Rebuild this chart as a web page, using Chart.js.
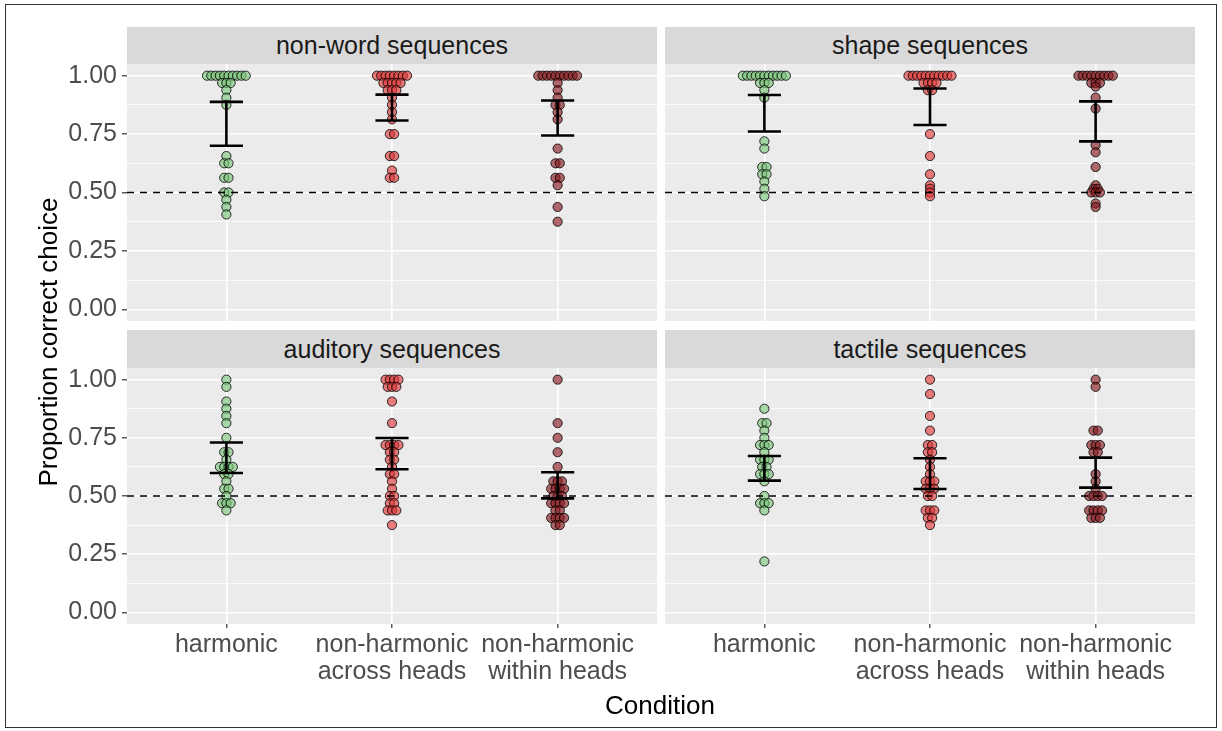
<!DOCTYPE html>
<html>
<head>
<meta charset="utf-8">
<script src="https://cdn.jsdelivr.net/npm/chart.js@4.4.0/dist/chart.umd.min.js"></script>
<style>
  html, body { margin: 0; padding: 0; background: #fff; }
  #fig { position: relative; width: 1222px; height: 731px; overflow: hidden;
         font-family: "Liberation Sans", Arial, sans-serif; }
  #frame { position: absolute; left: 5px; top: 4px; width: 1212px; height: 724px;
           border: 1px solid #333; box-sizing: border-box; }
  canvas { position: absolute; }
  .strip { position: absolute; background: #d9d9d9; color: #1a1a1a; font-size: 25px;
           text-align: center; z-index: 2; }
  .title { position: absolute; color: #000; font-size: 26px; text-align: center;
           height: 30px; line-height: 30px; z-index: 2; }
</style>
</head>
<body>
<div id="fig">
  <div id="frame"></div>
  <div class="strip" style="left:127px;top:27px;width:530px;height:37px;line-height:37px">non-word sequences</div>
  <div class="strip" style="left:665px;top:27px;width:530px;height:37px;line-height:37px">shape sequences</div>
  <div class="strip" style="left:127px;top:330px;width:530px;height:38px;line-height:38px">auditory sequences</div>
  <div class="strip" style="left:665px;top:330px;width:530px;height:38px;line-height:38px">tactile sequences</div>
  <canvas id="tl" width="626" height="305" style="left:39px;top:40px"></canvas>
  <canvas id="tr" width="546" height="305" style="left:657px;top:40px"></canvas>
  <canvas id="bl" width="626" height="374" style="left:39px;top:344px"></canvas>
  <canvas id="br" width="546" height="374" style="left:657px;top:344px"></canvas>
  <div class="title" style="left:-152px;top:327px;width:400px;transform:rotate(-90deg)">Proportion correct choice</div>
  <div class="title" style="left:460px;top:690px;width:400px">Condition</div>
</div>

<script>
// DATA
const conditions = ['harmonic', 'non-harmonic across heads', 'non-harmonic within heads'];
const xTickLabels = [['harmonic'], ['non-harmonic', 'across heads'], ['non-harmonic', 'within heads']];
const yTickValues = [0, 0.25, 0.5, 0.75, 1];
const yTickLabels = ['0.00', '0.25', '0.50', '0.75', '1.00'];
const yMinorValues = [0.125, 0.375, 0.625, 0.875];
const chanceLevel = 0.5;

// non-word sequences
const nonwordHarmonic = [1, 1, 1, 1, 1, 1, 1, 1, 1, 1, 0.969, 0.969, 0.969, 0.938, 0.906, 0.875,
  0.656, 0.625, 0.625, 0.563, 0.563, 0.5, 0.5, 0.469, 0.438, 0.406];
const nonwordAcross = [1, 1, 1, 1, 1, 1, 1, 1, 0.969, 0.969, 0.969, 0.969, 0.969, 0.938, 0.938, 0.938,
  0.906, 0.875, 0.844, 0.813, 0.75, 0.75, 0.656, 0.656, 0.594, 0.563, 0.563];
const nonwordWithin = [1, 1, 1, 1, 1, 1, 1, 1, 1, 1, 0.969, 0.938, 0.906, 0.875, 0.875, 0.844, 0.813,
  0.688, 0.625, 0.625, 0.563, 0.563, 0.531, 0.438, 0.375];
const nonwordCiLow = [0.70, 0.808, 0.744];
const nonwordCiHigh = [0.888, 0.919, 0.894];

// shape sequences
const shapeHarmonic = [1, 1, 1, 1, 1, 1, 1, 1, 1, 1, 1, 0.969, 0.969, 0.969, 0.938, 0.906,
  0.719, 0.688, 0.609, 0.609, 0.578, 0.578, 0.547, 0.516, 0.484];
const shapeAcross = [1, 1, 1, 1, 1, 1, 1, 1, 1, 1, 1, 0.969, 0.969, 0.969, 0.969, 0.938, 0.938,
  0.75, 0.656, 0.578, 0.531, 0.516, 0.5, 0.484];
const shapeWithin = [1, 1, 1, 1, 1, 1, 1, 1, 1, 0.969, 0.969, 0.969, 0.953, 0.906, 0.859, 0.703,
  0.672, 0.609, 0.531, 0.516, 0.516, 0.5, 0.5, 0.5, 0.453, 0.438];
const shapeCiLow = [0.761, 0.789, 0.719];
const shapeCiHigh = [0.917, 0.945, 0.89];

// auditory sequences
const auditoryHarmonic = [1, 0.969, 0.906, 0.875, 0.844, 0.813, 0.75, 0.688, 0.688, 0.656,
  0.625, 0.625, 0.625, 0.625, 0.594, 0.594, 0.563, 0.531, 0.531, 0.5, 0.469, 0.469, 0.469, 0.438];
const auditoryAcross = [1, 1, 1, 1, 0.969, 0.969, 0.969, 0.906, 0.813, 0.719, 0.719, 0.719, 0.719,
  0.688, 0.688, 0.656, 0.656, 0.625, 0.594, 0.594, 0.563, 0.531, 0.5, 0.5, 0.469, 0.469,
  0.438, 0.438, 0.438, 0.375];
const auditoryWithin = [1, 0.813, 0.75, 0.688, 0.625, 0.563, 0.563, 0.563, 0.531, 0.531, 0.531, 0.531,
  0.5, 0.5, 0.5, 0.469, 0.469, 0.469, 0.469, 0.438, 0.438, 0.406, 0.406, 0.406, 0.406, 0.375, 0.375];
const auditoryCiLow = [0.599, 0.615, 0.49];
const auditoryCiHigh = [0.73, 0.749, 0.602];

// tactile sequences
const tactileHarmonic = [0.875, 0.813, 0.813, 0.781, 0.75, 0.719, 0.719, 0.719, 0.688, 0.656, 0.656,
  0.656, 0.625, 0.625, 0.594, 0.594, 0.594, 0.563, 0.5, 0.469, 0.469, 0.469, 0.438, 0.219];
const tactileAcross = [1, 0.938, 0.844, 0.781, 0.719, 0.719, 0.688, 0.688, 0.656, 0.625, 0.594,
  0.563, 0.563, 0.563, 0.531, 0.531, 0.531, 0.5, 0.5, 0.438, 0.438, 0.438, 0.406, 0.406, 0.375];
const tactileWithin = [1, 0.969, 0.781, 0.781, 0.719, 0.719, 0.719, 0.688, 0.688, 0.594, 0.563,
  0.531, 0.5, 0.5, 0.5, 0.5, 0.438, 0.438, 0.438, 0.438, 0.406, 0.406, 0.406];
const tactileCiLow = [0.566, 0.53, 0.536];
const tactileCiHigh = [0.672, 0.662, 0.665];

// STYLE
const fills = ['rgba(120,195,120,0.62)', 'rgba(220,55,55,0.64)', 'rgba(135,25,30,0.64)'];
const fontFamily = "'Liberation Sans', Arial, sans-serif";
const xMin = 0.4, xMax = 3.6;
const dotStep = 0.026;
const capHalf = 0.1;
const yAxisW = 80, xAxisH = 70, padY = 24, padX = 8;

const panelBg = {
  id: 'panelBg',
  beforeDraw(chart) {
    const {ctx, chartArea: a} = chart;
    ctx.save();
    ctx.fillStyle = '#ebebeb';
    ctx.fillRect(a.left, a.top, a.width, a.height);
    ctx.restore();
  }
};

// stack equal values side by side like a centred dot plot
function dotPoints(values, centre) {
  const counts = {}, seen = {};
  values.forEach(v => counts[v] = (counts[v] || 0) + 1);
  return values.map(v => {
    seen[v] = seen[v] === undefined ? 0 : seen[v] + 1;
    return {x: centre + (seen[v] - (counts[v] - 1) / 2) * dotStep, y: v};
  });
}

function lineSet(data, extra) {
  return Object.assign({
    type: 'scatter', data: data, showLine: true, pointRadius: 0,
    borderColor: '#000', borderWidth: 2.6, order: 1
  }, extra || {});
}

function makePanel(id, groups, ciLow, ciHigh, showX, showY) {
  const datasets = [];
  groups.forEach((vals, c) => {
    datasets.push({
      type: 'scatter', data: dotPoints(vals, c + 1), order: 3,
      backgroundColor: fills[c], borderColor: 'rgba(0,0,0,0.8)', borderWidth: 1, pointRadius: 4.6
    });
  });
  datasets.push(lineSet([{x: xMin, y: chanceLevel}, {x: xMax, y: chanceLevel}],
    {borderWidth: 1.3, borderDash: [7, 6], order: 2}));
  conditions.forEach((name, c) => {
    const x = c + 1;
    datasets.push(lineSet([{x: x, y: ciLow[c]}, {x: x, y: ciHigh[c]}]));
    datasets.push(lineSet([{x: x - capHalf, y: ciHigh[c]}, {x: x + capHalf, y: ciHigh[c]}]));
    datasets.push(lineSet([{x: x - capHalf, y: ciLow[c]}, {x: x + capHalf, y: ciLow[c]}]));
  });

  const isMajor = v => yTickValues.indexOf(v) >= 0;

  new Chart(document.getElementById(id), {
    type: 'scatter',
    data: {datasets: datasets},
    plugins: [panelBg],
    options: {
      responsive: false,
      animation: false,
      events: [],
      layout: {padding: {top: padY, bottom: padY, left: padX, right: padX}},
      plugins: {legend: {display: false}, tooltip: {enabled: false}},
      scales: {
        x: {
          type: 'linear', min: xMin, max: xMax,
          afterBuildTicks: ax => { ax.ticks = [1, 2, 3].map(v => ({value: v})); },
          afterFit: ax => { ax.height = showX ? xAxisH : 0; },
          border: {display: false},
          grid: {color: '#fff', lineWidth: 1.6, drawTicks: showX, tickLength: 4,
                 tickColor: '#333', tickWidth: 1.2},
          ticks: {display: showX, autoSkip: false, maxRotation: 0, padding: 3, color: '#4d4d4d',
                  font: {size: 25, family: fontFamily, lineHeight: 1.1},
                  callback: (v, i) => xTickLabels[i]}
        },
        y: {
          type: 'linear', min: -0.05, max: 1.05,
          afterBuildTicks: ax => {
            ax.ticks = yTickValues.concat(yMinorValues).sort((a, b) => a - b).map(v => ({value: v}));
          },
          afterFit: ax => { ax.width = showY ? yAxisW : 0; },
          border: {display: false},
          grid: {color: '#fff', drawTicks: showY, tickLength: 5, tickWidth: 1.2,
                 lineWidth: ctx => isMajor(ctx.tick.value) ? 1.6 : 0.8,
                 tickColor: ctx => isMajor(ctx.tick.value) ? '#333' : 'rgba(0,0,0,0)'},
          ticks: {display: showY, autoSkip: false, padding: 5, color: '#4d4d4d',
                  font: {size: 25, family: fontFamily},
                  callback: v => { const i = yTickValues.indexOf(v); return i >= 0 ? yTickLabels[i] : ''; }}
        }
      }
    }
  });
}

makePanel('tl', [nonwordHarmonic, nonwordAcross, nonwordWithin], nonwordCiLow, nonwordCiHigh, false, true);
makePanel('tr', [shapeHarmonic, shapeAcross, shapeWithin], shapeCiLow, shapeCiHigh, false, false);
makePanel('bl', [auditoryHarmonic, auditoryAcross, auditoryWithin], auditoryCiLow, auditoryCiHigh, true, true);
makePanel('br', [tactileHarmonic, tactileAcross, tactileWithin], tactileCiLow, tactileCiHigh, true, false);
</script>
</body>
</html>
